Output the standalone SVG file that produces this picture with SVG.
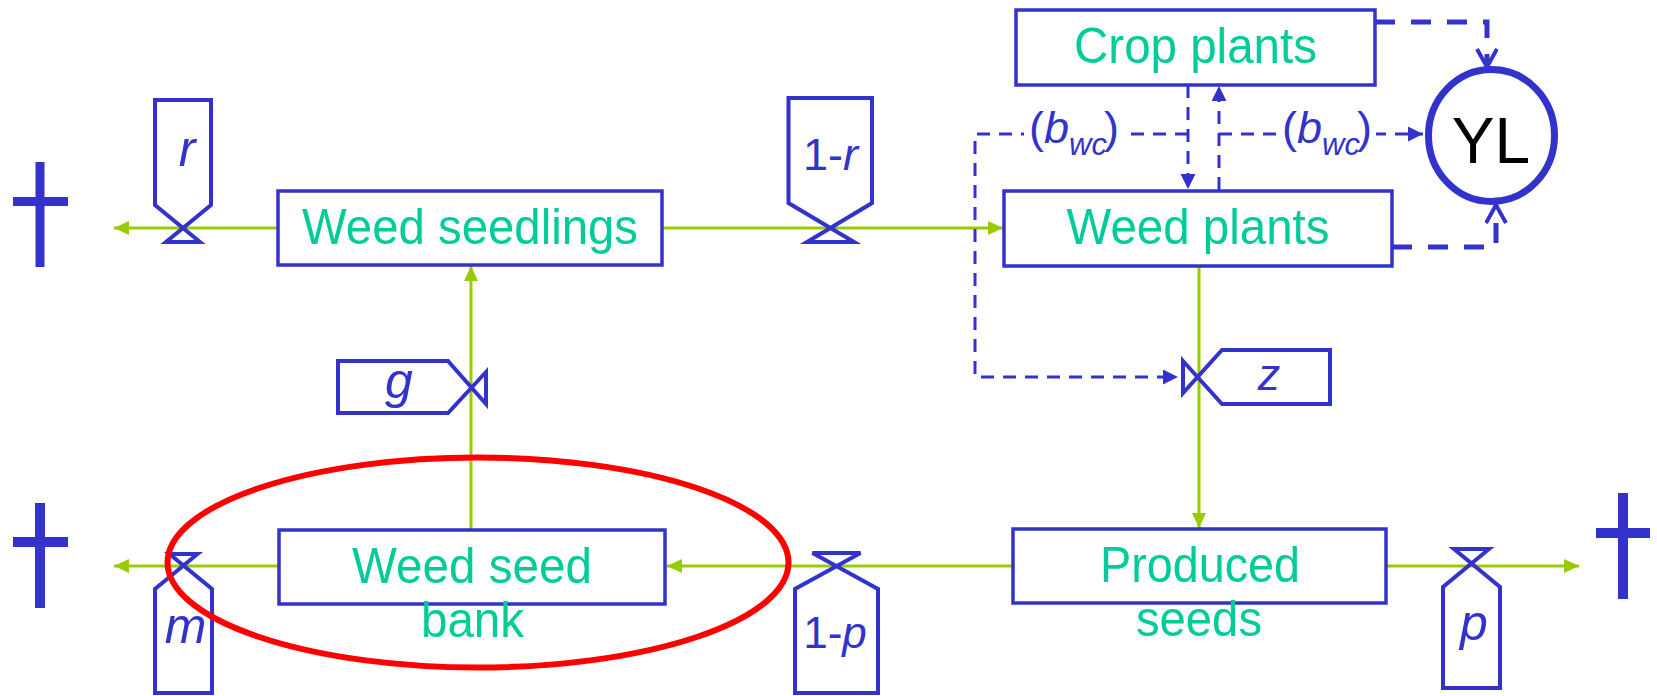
<svg xmlns="http://www.w3.org/2000/svg" width="1657" height="696" viewBox="0 0 1657 696">
<defs>
<marker id="ag" markerUnits="userSpaceOnUse" markerWidth="16" markerHeight="16" refX="15" refY="7" orient="auto"><path d="M0,0 L15,7 L0,14 Z" fill="#99CC00"/></marker>
<marker id="ab" markerUnits="userSpaceOnUse" markerWidth="16" markerHeight="16" refX="15" refY="7.5" orient="auto"><path d="M0,0 L15,7.5 L0,15 Z" fill="#3333CC"/></marker>
<marker id="av" markerUnits="userSpaceOnUse" markerWidth="26" markerHeight="26" refX="20" refY="11" orient="auto"><path d="M2,1 L20,11 L2,21" fill="none" stroke="#3333CC" stroke-width="4"/></marker>
<style>
.box{fill:#fff;stroke:#3333CC;stroke-width:3.5}
.lbl{font-family:"Liberation Sans",Arial,sans-serif;font-size:50px;fill:#00CC99;text-anchor:middle}
.flow{fill:none;stroke:#99CC00;stroke-width:3;marker-end:url(#ag)}
.valve{fill:none;stroke:#3333CC;stroke-width:4}
.vt{font-family:"Liberation Sans",Arial,sans-serif;fill:#3333CC;text-anchor:middle}
.it{font-style:italic}
.dash{fill:none;stroke:#3333CC;stroke-width:3;stroke-dasharray:13 9;marker-end:url(#ab)}
.dashk{fill:none;stroke:#3333CC;stroke-width:5;stroke-dasharray:20 16;marker-end:url(#av)}
.cross{fill:#3333CC}
</style>
</defs>

<g id="connectors">
  <path class="flow" d="M278,228 L114,228"/>
  <path class="flow" d="M662,228 L1003,228"/>
  <path class="flow" d="M471,530 L471,266"/>
  <path class="flow" d="M1199,266 L1199,528"/>
  <path class="flow" d="M1013,566 L667,566"/>
  <path class="flow" d="M279,566 L114,566"/>
  <path class="flow" d="M1386,566 L1579,566"/>
  <path class="dash" d="M1188,85 L1188,189"/>
  <path class="dash" d="M1219,190 L1219,86"/>
  <path class="dash" d="M1219,134 L1423,134"/>
  <path class="dash" d="M1188,134 L975,134 L975,377 L1178,377"/>
  <path class="dashk" d="M1375,22 L1487,22 L1487,67"/>
  <path class="dashk" d="M1392,247 L1496,247 L1496,205"/>
  <g id="label-bwc-1">
    <rect x="1024" y="104" width="100" height="56" fill="#fff"/>
    <text class="vt" x="1074" y="143" font-size="45">(<tspan class="it">b</tspan><tspan class="it" font-size="31" dy="12">wc</tspan><tspan dy="-12" dx="-3">)</tspan></text>
  </g>
  <g id="label-bwc-2">
    <rect x="1276" y="104" width="100" height="56" fill="#fff"/>
    <text class="vt" x="1327" y="143" font-size="45">(<tspan class="it">b</tspan><tspan class="it" font-size="31" dy="12">wc</tspan><tspan dy="-12" dx="-3">)</tspan></text>
  </g>
</g>

<g id="weed-seedlings">
  <rect class="box" x="278" y="191" width="384" height="74"/>
  <text class="lbl" x="470" y="244" textLength="336" lengthAdjust="spacingAndGlyphs">Weed seedlings</text>
</g>
<g id="crop-plants">
  <rect class="box" x="1016" y="10" width="359" height="75"/>
  <text class="lbl" x="1195.5" y="63" textLength="243" lengthAdjust="spacingAndGlyphs">Crop plants</text>
</g>
<g id="weed-plants">
  <rect class="box" x="1004" y="191" width="388" height="75"/>
  <text class="lbl" x="1198" y="244" textLength="263" lengthAdjust="spacingAndGlyphs">Weed plants</text>
</g>
<g id="weed-seed-bank">
  <rect class="box" x="279" y="530" width="386" height="74"/>
  <text class="lbl" x="472" y="583" textLength="240" lengthAdjust="spacingAndGlyphs">Weed seed</text>
  <text class="lbl" x="472.5" y="637" textLength="103" lengthAdjust="spacingAndGlyphs">bank</text>
</g>
<g id="produced-seeds">
  <rect class="box" x="1013" y="529" width="373" height="74"/>
  <text class="lbl" x="1200" y="582" textLength="200" lengthAdjust="spacingAndGlyphs">Produced</text>
  <text class="lbl" x="1199" y="636" textLength="126" lengthAdjust="spacingAndGlyphs">seeds</text>
</g>
<g id="yl">
  <ellipse cx="1491.5" cy="135.5" rx="63" ry="66" fill="#fff" stroke="#3333CC" stroke-width="7"/>
  <text x="1491" y="163" font-family="Liberation Sans, Arial, sans-serif" font-size="64" fill="#000" text-anchor="middle">YL</text>
</g>

<g id="valve-r">
  <path class="valve" d="M200,242 L155,205 L155,100 L211,100 L211,205 L166,242 Z"/>
  <text class="vt it" x="187" y="166" font-size="50">r</text>
</g>
<g id="valve-1-r">
  <path class="valve" d="M854,242 L788.5,203 L788.5,98 L872,98 L872,203 L807,242 Z"/>
  <text class="vt" x="830.5" y="170" font-size="45">1-<tspan class="it">r</tspan></text>
</g>
<g id="valve-g">
  <path class="valve" d="M486,404 L448,361 L338,361 L338,413 L448,413 L486,372 Z"/>
  <text class="vt it" x="399" y="398" font-size="50">g</text>
</g>
<g id="valve-z">
  <path class="valve" d="M1183,361 L1222,404 L1330,404 L1330,350 L1222,350 L1183,393 Z"/>
  <text class="vt it" x="1269" y="390" font-size="45">z</text>
</g>
<g id="valve-m">
  <path class="valve" d="M197.5,554 L155,589 L155,693 L212,693 L212,589 L169.5,554 Z"/>
  <text class="vt it" x="185.5" y="643" font-size="50">m</text>
</g>
<g id="valve-1-p">
  <path class="valve" d="M860.5,553 L795,589 L795,693 L878,693 L878,589 L812.5,553 Z"/>
  <text class="vt" x="835" y="648" font-size="44">1-<tspan class="it">p</tspan></text>
</g>
<g id="valve-p">
  <path class="valve" d="M1489,549 L1443,587 L1443,688 L1500,688 L1500,587 L1454,549 Z"/>
  <text class="vt it" x="1474" y="640" font-size="50">p</text>
</g>

<g id="cross-top-left">
  <rect class="cross" x="35.5" y="162" width="9" height="105"/>
  <rect class="cross" x="13" y="197" width="55" height="9"/>
</g>
<g id="cross-bottom-left">
  <rect class="cross" x="35" y="503" width="10" height="105"/>
  <rect class="cross" x="13" y="537" width="55" height="10"/>
</g>
<g id="cross-right">
  <rect class="cross" x="1618" y="493" width="10" height="106"/>
  <rect class="cross" x="1596" y="528" width="54" height="10"/>
</g>

<g id="highlight">
  <ellipse cx="478" cy="562.5" rx="310.5" ry="105" fill="none" stroke="#FF0000" stroke-width="6"/>
</g>
</svg>
